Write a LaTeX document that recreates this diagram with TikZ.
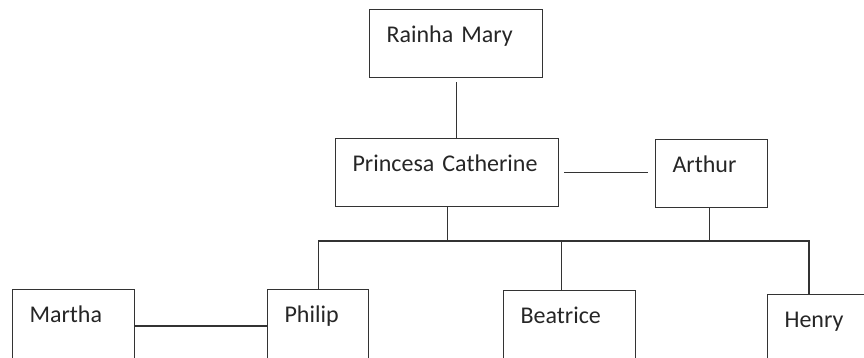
\documentclass[tikz,border=0pt]{standalone}
\usepackage{fontspec}
\setmainfont{Carlito}
\usepackage{tikz}

\begin{document}
\begin{tikzpicture}[font=\fontsize{24}{29}\selectfont,x=1pt,y=-1pt,
  person/.style={rectangle,draw=black!80,line width=1.1pt,text=black!85,anchor=north west,align=left,inner xsep=17pt,inner ysep=16pt,text height=17pt,text depth=19pt,text width=#1},
  child/.style={person=#1,text depth=45pt},
  link/.style={draw=black!80,line width=1.1pt}]
\useasboundingbox (0,0) rectangle (864,358);
\clip (0,0) rectangle (864,358);
\node[person=139pt] (mary) at (369,9) {Rainha Mary};
\node[person=189pt] (catherine) at (335,138) {Princesa Catherine};
\node[person=78pt] (arthur) at (655,139) {Arthur};
\node[child=88pt] (martha) at (12,289) {Martha};
\node[child=67pt] (philip) at (267,289) {Philip};
\node[child=98pt] (beatrice) at (503,290) {Beatrice};
\node[child=96pt] (henry) at (767,294) {Henry};
\coordinate (busL) at (316,241);
\coordinate (busR) at (809,241);
\draw[link,shorten <=4pt] (mary.south) -- (mary.south |- catherine.north);
\draw[link,shorten <=5pt,shorten >=7pt] (catherine.east) -- (catherine.east -| arthur.west);
\draw[link] (catherine.south) -- (catherine.south |- busL);
\draw[link] ([xshift=-2pt]arthur.south) -- ([xshift=-2pt]arthur.south |- busL);
\draw[link] (philip.north) |- (busR) -- (busR |- henry.north);
\draw[link] ([xshift=-8pt]beatrice.north) -- ([xshift=-8pt]beatrice.north |- busL);
\draw[link] ([yshift=-37pt]martha.north east) -- ([yshift=-37pt]philip.north west);
\end{tikzpicture}
\end{document}
